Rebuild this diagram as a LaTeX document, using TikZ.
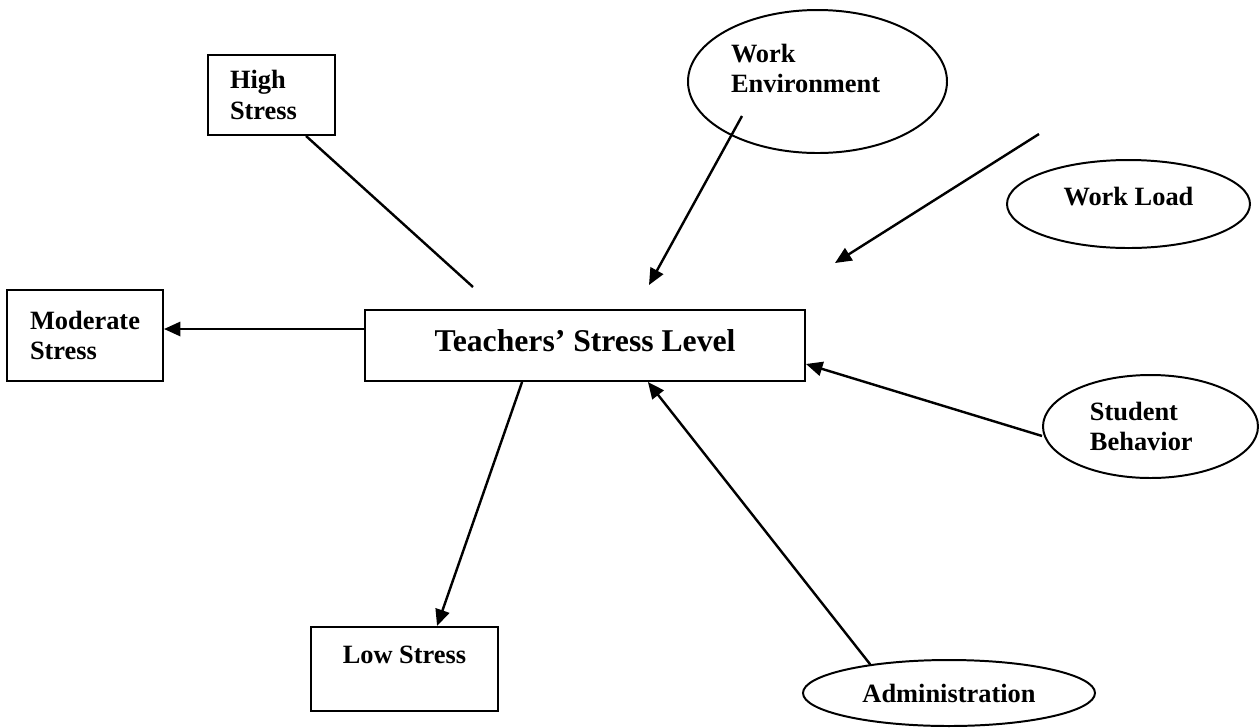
\documentclass[tikz,border=0pt]{standalone}
\usepackage{fontspec}
\setmainfont{Liberation Serif}
\usetikzlibrary{arrows.meta,shapes.geometric}
\tikzset{
	box/.style={draw,rectangle,line width=0.9pt,inner sep=0pt,align=left,
		font=\bfseries\fontsize{12}{13.9}\selectfont},
	oval/.style={draw,ellipse,line width=0.9pt,inner sep=0pt,align=left,
		font=\bfseries\fontsize{12}{13.9}\selectfont},
	sz/.style 2 args={minimum width=#1*0.4545pt,minimum height=#2*0.4545pt},
	arr/.style={-{Triangle[length=7.5pt,width=6.5pt]},line width=1.1pt},
	plain/.style={line width=1.1pt}
}

\begin{document}
\begin{tikzpicture}[x=0.4545pt,y=-0.4545pt]
	\useasboundingbox (0,0) rectangle (1259,727);
	% centre
	\node[box,sz={440}{71},text depth=4.7pt,font=\bfseries\fontsize{14.4}{17}\selectfont] (teach) at (585,345.5) {Teachers’ Stress Level};
	% stress levels
	\node[box,sz={127}{80},text width=37.7pt] (high) at (271.5,95) {High\\Stress};
	\node[box,sz={156}{91}] (moderate) at (85,335.5) {Moderate\\Stress};
	\node[box,sz={187}{84},text depth=13.4pt] (low) at (404.5,669) {Low Stress};
	% factors
	\node[oval,sz={259}{143},text width=78.6pt] (env) at (817.5,81.5) {Work\\Environment\\[-2pt]\mbox{}};
	\node[oval,sz={243}{88},text depth=7.2pt] (load) at (1128.5,204) {Work Load};
	\node[oval,sz={215}{103},text width=55pt] (student) at (1150.5,426.5) {Student\\Behavior};
	\node[oval,sz={292}{66}] (admin) at (949,693) {Administration};
	\coordinate (hsend) at (473,287);
	\coordinate (envfoot) at (742,116);
	\coordinate (envtip) at (649,285);
	\coordinate (loadfoot) at (1039,134);
	\coordinate (loadtip) at (835,263);
	\draw[plain] ([xshift=15.7pt]high.south) -- (hsend);
	\draw[arr] ([yshift=7.5pt]teach.west) -- ([yshift=7.5pt]teach.west -| moderate.east);
	\draw[arr] ([xshift=-28.6pt]teach.south) -- ([xshift=14.8pt]low.north);
	\draw[arr] (envfoot) -- (envtip);
	\draw[arr] (loadfoot) -- (loadtip);
	\draw[arr] ([yshift=-4.3pt]student.west) -- ([yshift=-8.4pt]teach.east);
	\draw[arr] (admin.160) -- ([xshift=28.6pt]teach.south);
\end{tikzpicture}
\end{document}
